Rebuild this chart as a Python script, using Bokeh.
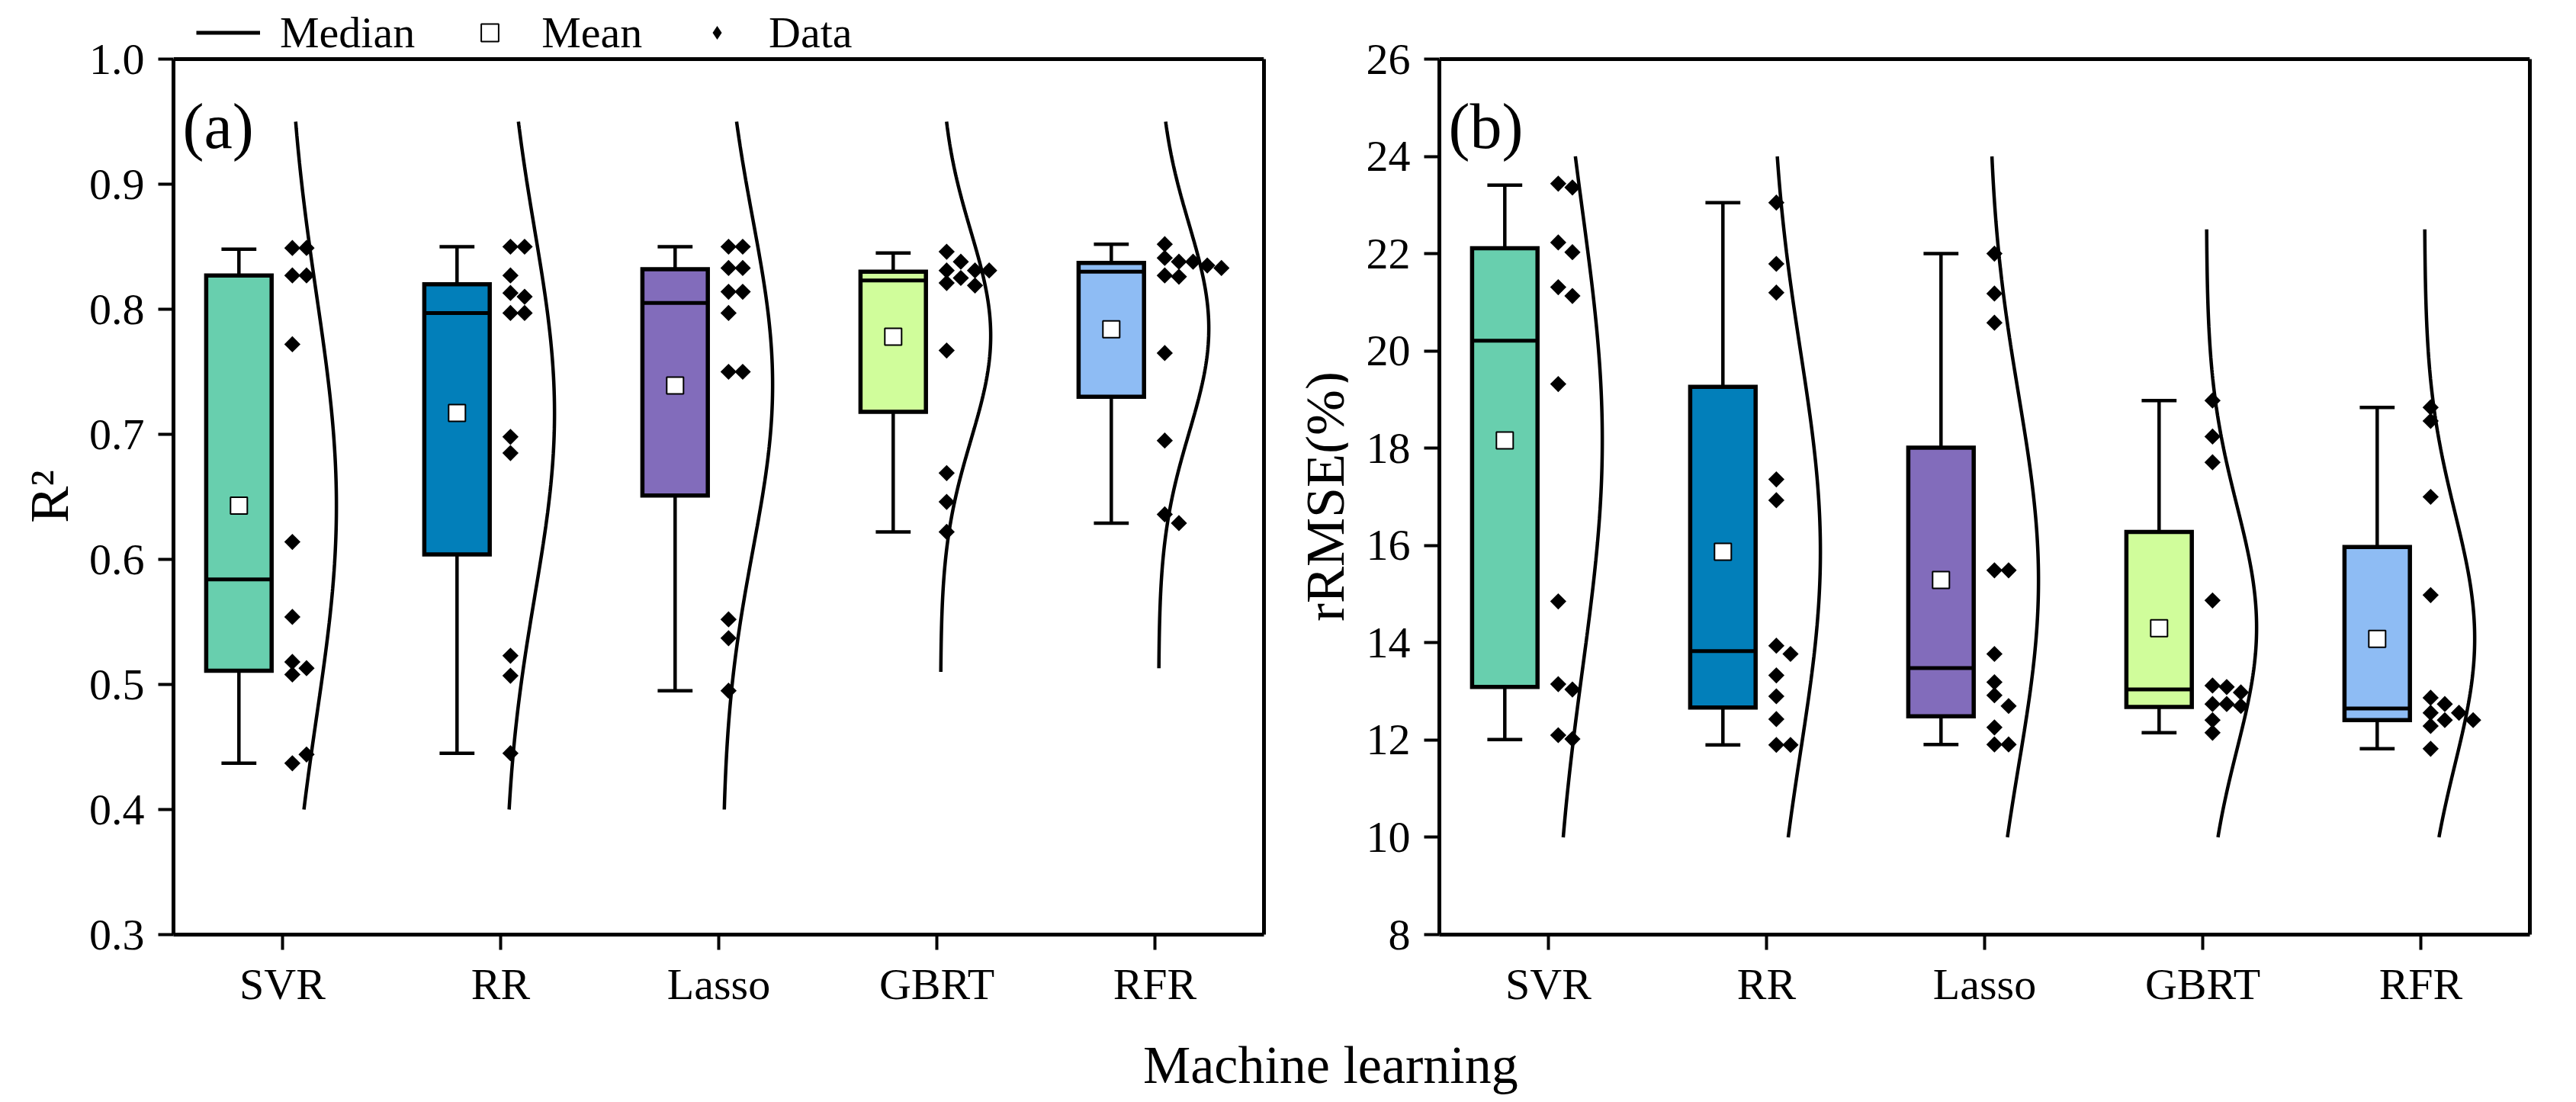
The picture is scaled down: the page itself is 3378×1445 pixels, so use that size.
import numpy as np
from bokeh.plotting import figure
from bokeh.models import (ColumnDataSource, Range1d, FixedTicker, Legend, LegendItem,
                          Label, Div, Span, LinearAxis)
from bokeh.layouts import row, column
from bokeh.embed import file_html
from bokeh.resources import INLINE

FONT = "Liberation Serif"

categories = ["SVR", "RR", "Lasso", "GBRT", "RFR"]
box_colors = ["#68CFAE", "#027FBA", "#826CBB", "#D0FD9B", "#8EBCF4"]

# ---- panel (a): R^2 ----
r2_svr = [0.849, 0.849, 0.827, 0.827, 0.772, 0.614, 0.554, 0.508, 0.513, 0.518, 0.437, 0.444]
r2_rr = [0.850, 0.850, 0.827, 0.813, 0.810, 0.797, 0.797, 0.698, 0.685, 0.523, 0.507, 0.445]
r2_lasso = [0.850, 0.850, 0.833, 0.833, 0.814, 0.814, 0.797, 0.750, 0.750, 0.552, 0.537, 0.495]
r2_gbrt = [0.846, 0.838, 0.831, 0.831, 0.831, 0.825, 0.821, 0.819, 0.767, 0.669, 0.646, 0.622]
r2_rfr = [0.852, 0.841, 0.838, 0.838, 0.835, 0.833, 0.827, 0.826, 0.765, 0.695, 0.636, 0.629]
r2_q1 = [0.511, 0.604, 0.651, 0.718, 0.730]
r2_median = [0.584, 0.797, 0.805, 0.823, 0.830]
r2_q3 = [0.827, 0.820, 0.832, 0.830, 0.837]
r2_low = [0.437, 0.445, 0.495, 0.622, 0.629]
r2_high = [0.848, 0.850, 0.850, 0.845, 0.852]
r2_mean = [0.643, 0.717, 0.739, 0.778, 0.784]
r2_curve_low = [0.40, 0.40, 0.40, 0.51, 0.513]
r2_curve_high = [0.95, 0.95, 0.95, 0.95, 0.95]
r2_ticks = [0.3, 0.4, 0.5, 0.6, 0.7, 0.8, 0.9, 1.0]

# ---- panel (b): rRMSE(%) ----
rm_svr = [23.44, 23.36, 22.23, 22.03, 21.31, 21.13, 19.32, 14.85, 13.15, 13.04, 12.10, 12.02]
rm_rr = [23.05, 21.79, 21.20, 17.36, 16.93, 13.94, 13.77, 13.33, 12.90, 12.43, 11.90, 11.90]
rm_lasso = [22.00, 21.18, 20.58, 15.49, 15.49, 13.77, 13.19, 12.92, 12.70, 12.26, 11.91, 11.91]
rm_gbrt = [18.98, 18.24, 17.71, 14.87, 13.12, 13.09, 12.98, 12.74, 12.74, 12.70, 12.41, 12.15]
rm_rfr = [18.84, 18.56, 17.00, 14.98, 12.87, 12.74, 12.56, 12.56, 12.41, 12.41, 12.29, 11.82]
rm_q1 = [13.09, 12.67, 12.49, 12.68, 12.41]
rm_median = [20.21, 13.83, 13.48, 13.04, 12.65]
rm_q3 = [22.11, 19.26, 18.01, 16.28, 15.97]
rm_low = [12.01, 11.90, 11.91, 12.15, 11.82]
rm_high = [23.41, 23.05, 22.00, 18.98, 18.84]
rm_mean = [18.16, 15.87, 15.29, 14.30, 14.08]
rm_curve_low = [10, 10, 10, 10, 10]
rm_curve_high = [24, 24, 24, 22.5, 22.5]
rm_ticks = [8, 10, 12, 14, 16, 18, 20, 22, 24, 26]

FRAME_W, FRAME_H = 1430, 1148
TOP, BOTTOM = 77, 110
FIG_H = TOP + FRAME_H + BOTTOM


def slot_layout(vals, thr):
    placed, out = [], []
    for v in vals:
        k = 0
        while any(s == k and abs(v - w) < thr for s, w in placed):
            k += 1
        placed.append((k, v))
        out.append(k)
    return out


def panel(groups, q1, med, q3, low, high, mean, clo, chi, yr, ticks, fmt,
          plabel, border_left, border_right, legend=False):
    span = yr[1] - yr[0]
    ppu = FRAME_H / span
    # the frame is extended upward by TOP px so that the legend strip lies inside it;
    # the visible box edges are drawn by bounded axes and a span at the top value
    p = figure(width=border_left + FRAME_W + border_right, height=FIG_H,
               x_range=Range1d(0.5, 5.5), y_range=Range1d(yr[0], yr[1] + TOP / ppu),
               output_backend="svg", toolbar_location=None,
               min_border_left=border_left, min_border_right=border_right,
               min_border_top=0, min_border_bottom=BOTTOM)
    p.title.visible = False
    p.xgrid.visible = False
    p.ygrid.visible = False
    p.background_fill_color = "white"
    p.border_fill_color = "white"
    p.outline_line_color = None

    pos = np.arange(1, len(categories) + 1, dtype=float)
    xc = pos - 0.2
    src = ColumnDataSource(dict(x=xc, q1=q1, med=med, q3=q3, lo=low, hi=high,
                                mean=mean, color=box_colors,
                                cl=xc - 0.08, cr=xc + 0.08, ml=xc - 0.15, mr=xc + 0.15))
    # whiskers and caps
    for a0, b0, a1, b1 in (("x", "q3", "x", "hi"), ("x", "q1", "x", "lo"),
                           ("cl", "hi", "cr", "hi"), ("cl", "lo", "cr", "lo")):
        p.segment(x0=a0, y0=b0, x1=a1, y1=b1, source=src, line_color="black", line_width=4.5)
    # boxes
    p.vbar(x="x", width=0.3, bottom="q1", top="q3", source=src, fill_color="color",
           line_color="black", line_width=5.5, line_join="miter")
    r_med = p.segment(x0="ml", y0="med", x1="mr", y1="med", source=src,
                      line_color="black", line_width=5)
    r_mean = p.scatter(x="x", y="mean", source=src, marker="square", size=22,
                       fill_color="white", line_color="black", line_width=2)

    # data points (overlap spreading) and normal curves
    thr = 16.0 / ppu
    px, py, cxs, cys = [], [], [], []
    for i, vals in enumerate(groups):
        sl = slot_layout(vals, thr)
        for v, k in zip(vals, sl):
            px.append(pos[i] + 0.045 + 0.065 * k)
            py.append(v)
        a = np.asarray(vals, dtype=float)
        mu, sd = a.mean(), a.std(ddof=1)
        yy = np.linspace(clo[i], chi[i], 200)
        cxs.append(pos[i] + 0.017 + 0.23 * np.exp(-0.5 * ((yy - mu) / sd) ** 2))
        cys.append(yy)
    pts = ColumnDataSource(dict(x=px, y=py))
    # diamond-shaped key for the legend (fully covered by the rotated squares)
    r_data_key = p.scatter(x="x", y="y", source=pts, marker="diamond", size=18,
                           fill_color="black", line_color=None)
    p.scatter(x="x", y="y", source=pts, marker="square", angle=np.pi / 4, size=15,
              fill_color="black", line_color=None)
    p.multi_line(xs=cxs, ys=cys, line_color="black", line_width=4.5)

    # axes
    p.xaxis.ticker = FixedTicker(ticks=list(pos))
    p.xaxis.major_label_overrides = {int(k): c for k, c in zip(pos, categories)}
    p.yaxis.ticker = FixedTicker(ticks=ticks)
    p.yaxis.major_label_overrides = {t: fmt.format(t) for t in ticks}
    p.yaxis.bounds = (yr[0], yr[1])
    for ax in (p.xaxis[0], p.yaxis[0]):
        ax.axis_line_width = 5
        ax.axis_line_color = "black"
        ax.major_tick_line_width = 4
        ax.major_tick_line_color = "black"
        ax.major_tick_out = 20
        ax.major_tick_in = 0
        ax.minor_tick_out = 0
        ax.minor_tick_in = 0
        ax.major_label_text_font = FONT
        ax.major_label_text_font_size = "58px"
        ax.major_label_text_color = "black"
    p.xaxis.major_label_standoff = 12
    p.yaxis.major_label_standoff = 18

    p.add_layout(LinearAxis(ticker=FixedTicker(ticks=[]), bounds=(yr[0], yr[1]),
                            axis_line_width=5, axis_line_color="black",
                            major_tick_out=0, major_tick_in=0,
                            minor_tick_out=0, minor_tick_in=0), "right")
    p.add_layout(Span(location=yr[1], dimension="width", line_color="black",
                      line_width=5))

    p.add_layout(Label(x=0.5 + 12 / 286.0, y=yr[1] - 88 / ppu, text=plabel,
                       text_font=FONT, text_font_size="84px", text_color="black",
                       text_baseline="alphabetic"))

    if legend:
        frame_total = FRAME_H + TOP
        common = dict(orientation="horizontal", glyph_width=84, label_standoff=26,
                      spacing=56, padding=0, margin=0, border_line_alpha=0,
                      background_fill_alpha=0, label_text_font=FONT,
                      label_text_font_size="58px", label_text_color="black")
        lg1 = Legend(items=[LegendItem(label="Median", renderers=[r_med], index=0),
                            LegendItem(label="Mean", renderers=[r_mean], index=0)],
                     location=(30, frame_total - 12 - 64), glyph_height=57, **common)
        lg2 = Legend(items=[LegendItem(label="Data", renderers=[r_data_key], index=0)],
                     location=(671, frame_total - 12 - 64), glyph_height=45, **common)
        p.add_layout(lg1)
        p.add_layout(lg2)
    return p


def ylabel_div(text, width, cx):
    html = ('<div style="position:relative;width:%dpx;height:%dpx;">'
            '<div style="position:absolute;left:%.1fpx;top:%.1fpx;'
            'transform:translate(-50%%,-50%%) rotate(-90deg);font-family:\'Liberation Serif\';'
            'font-size:72px;line-height:72px;white-space:nowrap;color:black">%s</div></div>'
            % (width, FIG_H, cx, TOP + FRAME_H / 2.0, text))
    return Div(text=html, width=width, height=FIG_H, margin=0)


pa = panel([r2_svr, r2_rr, r2_lasso, r2_gbrt, r2_rfr], r2_q1, r2_median, r2_q3, r2_low,
           r2_high, r2_mean, r2_curve_low, r2_curve_high, (0.3, 1.0), r2_ticks, "{:.1f}",
           "(a)", 127, 30, legend=True)
pb = panel([rm_svr, rm_rr, rm_lasso, rm_gbrt, rm_rfr], rm_q1, rm_median, rm_q3, rm_low,
           rm_high, rm_mean, rm_curve_low, rm_curve_high, (8, 26), rm_ticks, "{:d}",
           "(b)", 120, 40)

ya = ylabel_div("R²", 100, 65)
yb = ylabel_div("rRMSE(%)", 80, 51)

xlabel = Div(text=('<div style="margin-left:1499px;padding-top:34px;font-family:\'Liberation Serif\';'
                   'font-size:70px;line-height:56px;white-space:nowrap;color:black">'
                   'Machine learning</div>'), width=3357, height=90, margin=0)

layout = column(row(ya, pa, yb, pb), xlabel)
open("out.html", "w").write(file_html(layout, INLINE))
